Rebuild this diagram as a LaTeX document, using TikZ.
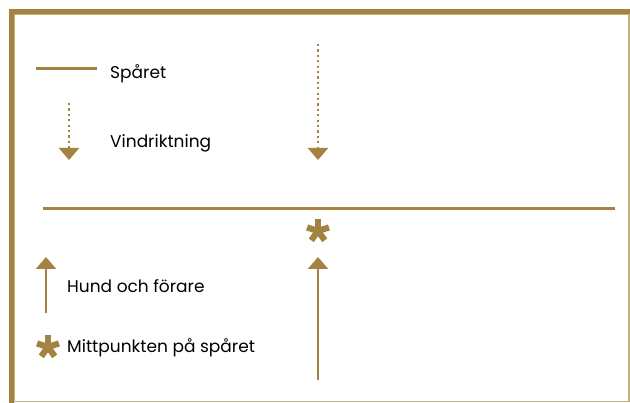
\documentclass[tikz,border=0pt]{standalone}
\usepackage{fontspec}
\setmainfont{Poppins}
\usetikzlibrary{arrows.meta}
\definecolor{gold}{RGB}{163,131,66}
\definecolor{tan}{RGB}{196,176,128}
\tikzset{
  framebar/.style={gold, line width=5pt},
  frameline/.style={tan, line width=1.5pt},
  trackline/.style={gold, line width=3pt},
  windarrow/.style={gold, line width=2.2pt, dash pattern=on 2.2pt off 3.2pt, -{Triangle[width=20pt,length=12pt]}},
  dogarrow/.style={gold, line width=2.4pt, -{Triangle[width=20pt,length=12pt]}},
  legendtext/.style={anchor=base west, inner sep=0pt, font=\fontsize{17}{19}\selectfont, text=black},
  pics/astsym/.style={code={
    \foreach \a in {90,18,162,234,306}
      \draw[gold, line width=6.2pt] (0,0) -- (-\a:11.5);
  }}
}
\begin{document}
\begin{tikzpicture}[x=1pt,y=-1pt]
\useasboundingbox (0,0) rectangle (630,403);
\fill[white] (0,0) rectangle (630,403);
% frame
\coordinate (ftl) at (11.5,11.5);
\coordinate (ftr) at (630,11.5);
\coordinate (fbl) at (11.5,403);
\draw[frameline] (629,14) -- (629,401.5) -- (14,401.5);
\draw[tan, line width=1pt] (14,14.5) -- (628,14.5);
\draw[tan, line width=1pt] (14.5,14) -- (14.5,401);
\draw[framebar] (fbl) -- (ftl) -- (ftr);
% legend: track
\coordinate (lt1) at (36,69);
\coordinate (lt2) at (97,69);
\draw[trackline] (lt1) -- (lt2);
\node[legendtext] (tspar) at (110,78.5) {Spåret};
% legend: wind
\coordinate (lw1) at (69,103);
\coordinate (lw2) at (69,160);
\draw[windarrow] (lw1) -- (lw2);
\node[legendtext] (twind) at (110,147.5) {Vindriktning};
% legend: dog
\coordinate (ld1) at (46,313);
\coordinate (ld2) at (46,257);
\draw[dogarrow] (ld1) -- (ld2);
\node[legendtext] (tdog) at (67,293) {Hund och förare};
% legend: midpoint
\pic (last) at (48,347) {astsym};
\node[legendtext] (tmid) at (67,353) {Mittpunkten på spåret};
% main
\coordinate (w1) at (318,44);
\coordinate (w2) at (318,160);
\draw[windarrow] (w1) -- (w2);
\coordinate (tr1) at (43,209);
\coordinate (tr2) at (615,209);
\draw[trackline] (tr1) -- (tr2);
\pic (mast) at (318,231) {astsym};
\coordinate (d1) at (318,380);
\coordinate (d2) at (318,257);
\draw[dogarrow] (d1) -- (d2);
\end{tikzpicture}
\end{document}
